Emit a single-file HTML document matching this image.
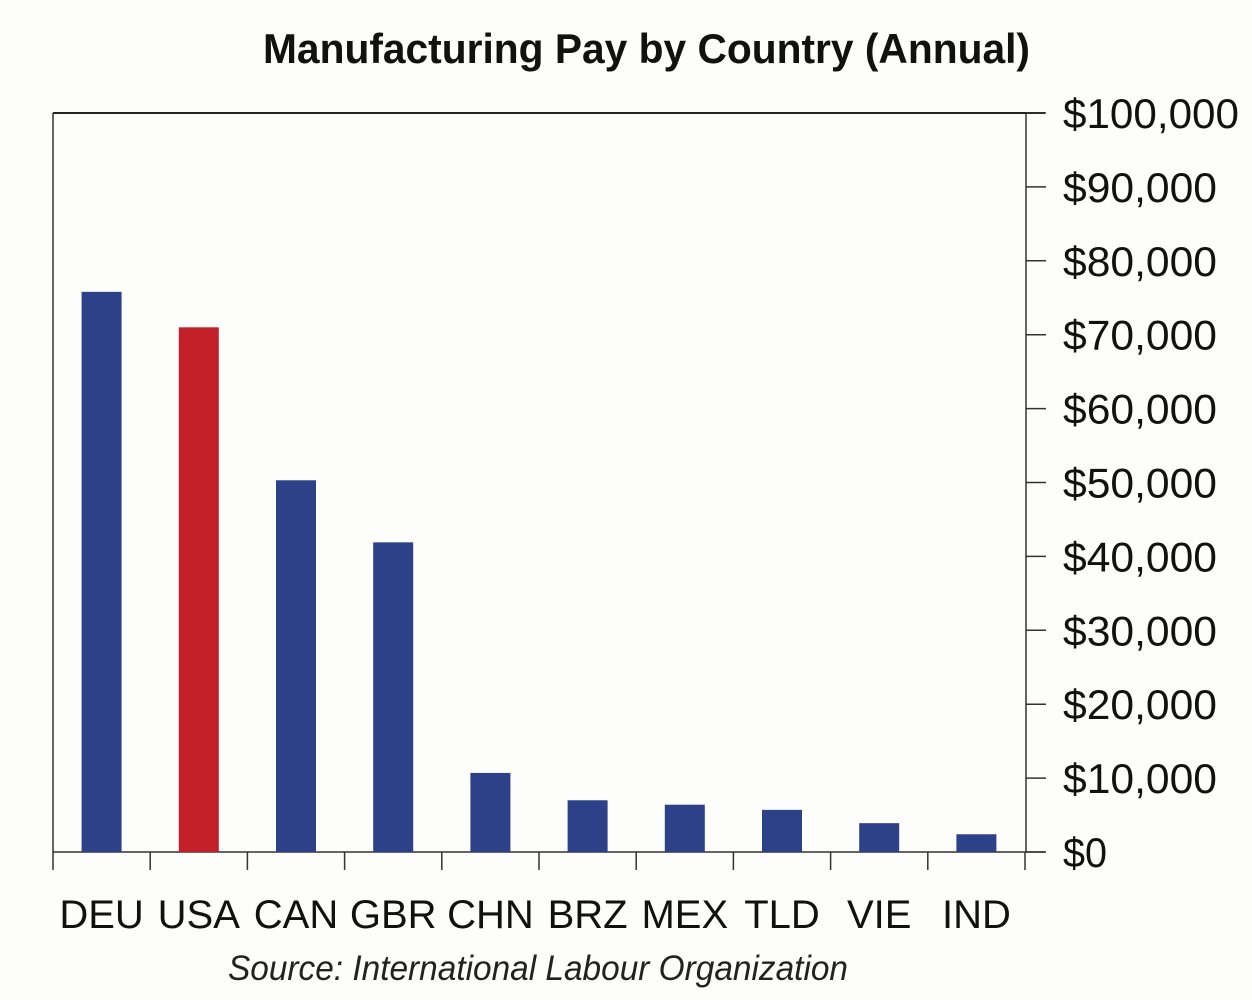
<!DOCTYPE html>
<html><head><meta charset="utf-8"><style>
body{margin:0;background:#fdfdfb;}
svg{display:block;font-family:"Liberation Sans",sans-serif;}
</style></head><body>
<svg id="chart" width="1252" height="1000" viewBox="0 0 1252 1000">
<rect width="1252" height="1000" fill="#fdfdfb"/>
<text x="263" y="63" font-size="42" font-weight="bold" fill="#111" textLength="767" lengthAdjust="spacingAndGlyphs">Manufacturing Pay by Country (Annual)</text>
<g id="axes"></g>
<g id="bars"></g>
<text x="228" y="980" font-size="35" font-style="italic" fill="#222" textLength="620" lengthAdjust="spacingAndGlyphs">Source: International Labour Organization</text>
</svg>
<script>
const categories=["DEU","USA","CAN","GBR","CHN","BRZ","MEX","TLD","VIE","IND"];
const values=[75800,71000,50300,41900,10700,7000,6400,5700,3900,2400];
const highlight=["USA"];
const yTicks=[0,10000,20000,30000,40000,50000,60000,70000,80000,90000,100000];
const yTickLabels=["$0","$10,000","$20,000","$30,000","$40,000","$50,000","$60,000","$70,000","$80,000","$90,000","$100,000"];

const NS="http://www.w3.org/2000/svg";
const L=53,R=1025,T=113,B=852,yMax=100000;
const y=v=>B-(v/yMax)*(B-T);
const band=(R-L)/categories.length;
const x=i=>L+band*i;
function mk(tag,attrs,parent){const e=document.createElementNS(NS,tag);for(const k in attrs)e.setAttribute(k,attrs[k]);parent.appendChild(e);return e;}
const axes=document.getElementById('axes'),bars=document.getElementById('bars');
let e;
e=mk('line',{x1:L,y1:T,x2:R+20,y2:T,stroke:'#222','stroke-width':2},axes);


e=mk('line',{x1:L,y1:T,x2:L,y2:B+18,stroke:'#333','stroke-width':1.5},axes);


e=mk('line',{x1:R+1,y1:T,x2:R+1,y2:B,stroke:'#333','stroke-width':1.5},axes);


e=mk('line',{x1:L,y1:B,x2:R+20,y2:B,stroke:'#333','stroke-width':1.5},axes);


yTicks.forEach((t,i)=>{
  const yy=y(t);
  e=mk('line',{x1:R+1,y1:yy,x2:R+21,y2:yy,stroke:'#333','stroke-width':1.5},axes);
  
  
  const lab=yTickLabels[i];
  e=mk('text',{x:1063,y:yy+15,'font-size':42,fill:'#111',textLength:lab.length*22,lengthAdjust:'spacingAndGlyphs'},axes);
  e.textContent=lab;
  
  
});
for(let i=1;i<=categories.length;i++){
  e=mk('line',{x1:x(i),y1:B,x2:x(i),y2:B+18,stroke:'#333','stroke-width':1.5},axes);
  
  
}
categories.forEach((c,i)=>{
  const cx=x(i)+band/2, w=40;
  e=mk('rect',{x:cx-w/2,y:y(values[i]),width:w,height:B-y(values[i]),fill:highlight.includes(c)?'#c4202a':'#2d4188'},bars);
  
  
  e=mk('text',{x:cx,y:928,'font-size':40,fill:'#111','text-anchor':'middle'},axes);
  e.textContent=c;
  
  
});
</script>
</body></html>
